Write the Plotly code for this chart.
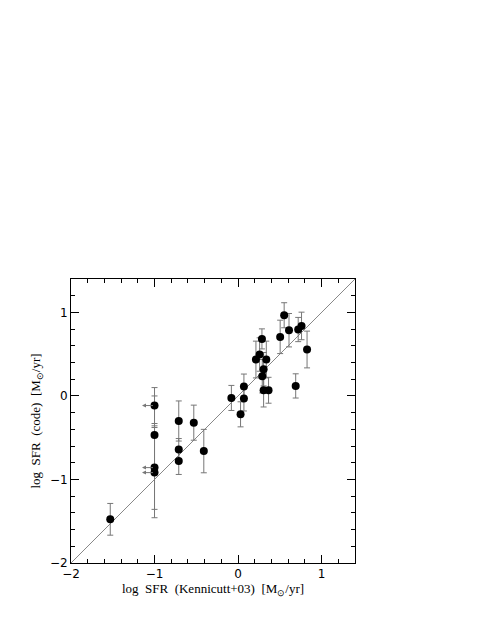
import plotly.graph_objects as go

# log SFR (Kennicutt+03) vs log SFR (code)
sfr_k03 = [-1.53, -1.0, -1.0, -1.0, -1.0, -0.71, -0.71, -0.71, -0.53, -0.41,
           -0.08, 0.03, 0.07, 0.07, 0.214, 0.258, 0.286, 0.338, 0.306, 0.29,
           0.306, 0.365, 0.504, 0.552, 0.61, 0.69, 0.72, 0.76, 0.826]
sfr_code = [-1.477, -0.115, -0.467, -0.858, -0.918, -0.30, -0.64, -0.78, -0.32, -0.66,
            -0.024, -0.22, 0.112, -0.03, 0.436, 0.496, 0.683, 0.436, 0.32, 0.236,
            0.068, 0.068, 0.707, 0.966, 0.787, 0.12, 0.795, 0.838, 0.556]
sfr_err = [0.19, 0.215, 0.467, 0.50, 0.54, 0.24, 0.13, 0.16, 0.21, 0.26,
           0.15, 0.15, 0.15, 0.15, 0.22, 0.2, 0.12, 0.22, 0.2, 0.2,
           0.2, 0.155, 0.2, 0.15, 0.2, 0.145, 0.145, 0.165, 0.22]

# upper limits on the Kennicutt value (left arrows)
lim_x = [-1.0, -1.0, -1.0]
lim_y = [-0.115, -0.858, -0.918]
one_to_one = [-2, 1.4]

fig = go.Figure()

fig.add_trace(go.Scatter(x=one_to_one, y=one_to_one, mode="lines",
                         line=dict(color="#888888", width=1), showlegend=False))

fig.add_trace(go.Scatter(
    x=sfr_k03, y=sfr_code, mode="markers",
    marker=dict(color="black", size=8),
    error_y=dict(type="data", array=sfr_err, color="#777777", thickness=1, width=3),
    showlegend=False))

for lx, ly in zip(lim_x, lim_y):
    fig.add_annotation(x=lx - 0.15, y=ly, ax=lx, ay=ly, xref="x", yref="y",
                       axref="x", ayref="y", showarrow=True, arrowhead=2,
                       arrowsize=0.8, arrowwidth=1, arrowcolor="#777777", text="")

axis_common = dict(
    range=[-2, 1.4], ticks="inside", ticklen=8, tickwidth=1, tickcolor="black",
    dtick=1, tick0=0, showline=True, linecolor="black", linewidth=1, mirror="allticks",
    showgrid=False, zeroline=False, automargin=False,
    tickfont=dict(family="DejaVu Sans", size=12, color="black"),
    minor=dict(ticks="inside", ticklen=4, dtick=0.2, tick0=0, tickcolor="black", showgrid=False),
)

fig.update_xaxes(**axis_common,
                 title=dict(text="log  SFR  (Kennicutt+03)  [M<sub>⊙</sub>/yr]",
                            font=dict(family="Liberation Serif", size=13, color="black"),
                            standoff=1))
fig.update_yaxes(**axis_common,
                 title=dict(text="log  SFR  (code)  [M<sub>⊙</sub>/yr]",
                            font=dict(family="Liberation Serif", size=13, color="black"),
                            standoff=6))

# the page body adds an 8px offset, so the margins are shifted to compensate
fig.update_layout(width=480, height=621, plot_bgcolor="white", paper_bgcolor="white",
                  margin=dict(l=63, r=133, t=271, b=66))

fig.write_html("out.html")
